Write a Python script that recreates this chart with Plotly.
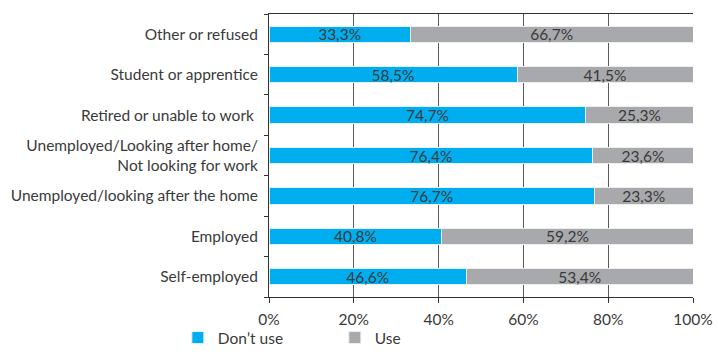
import plotly.graph_objects as go

# Employment status categories, listed bottom to top
categories = [
    "Self-employed",
    "Employed",
    "Unemployed/looking after the home",
    "Unemployed/Looking after home/<br>Not looking for work",
    "Retired or unable to work ",
    "Student or apprentice",
    "Other or refused",
]
dont_use = [46.6, 40.8, 76.7, 76.4, 74.7, 58.5, 33.3]
use = [53.4, 59.2, 23.3, 23.6, 25.3, 41.5, 66.7]
x_ticks = [0, 20, 40, 60, 80, 100]
x_tick_labels = ["0%", "20%", "40%", "60%", "80%", "100%"]

FONT = "Lato, 'Open Sans', sans-serif"
TEXT = "#3a3a3a"
SIZE = 15.5

fig = go.Figure()
fig.add_trace(go.Bar(
    y=categories, x=dont_use, name="Don\u2019t use", orientation="h",
    marker=dict(color="#00AEEF", line=dict(color="#dff3fb", width=1)),
    texttemplate="%{x:.1f}%", textposition="inside", insidetextanchor="middle",
    textfont=dict(family=FONT, size=SIZE, color=TEXT),
))
fig.add_trace(go.Bar(
    y=categories, x=use, name="Use", orientation="h",
    marker=dict(color="#A7A9AC", line=dict(color="#eeeeee", width=1)),
    texttemplate="%{x:.1f}%", textposition="inside", insidetextanchor="middle",
    textfont=dict(family=FONT, size=SIZE, color=TEXT),
))

fig.update_layout(
    barmode="stack",
    bargap=0.6,
    width=718, height=355,
    margin=dict(l=269, r=25, t=14, b=0),
    paper_bgcolor="white", plot_bgcolor="white",
    separators=",.",
    font=dict(family=FONT, size=SIZE, color=TEXT),
    uniformtext=dict(mode="show", minsize=10),
    showlegend=True,
    legend=dict(
        orientation="h", traceorder="normal",
        x=-0.215, xanchor="left", y=0, yanchor="bottom",
        bgcolor="rgba(0,0,0,0)",
        font=dict(family=FONT, size=SIZE, color=TEXT),
        entrywidth=112, itemwidth=30, tracegroupgap=0,
    ),
    xaxis=dict(
        range=[0, 100], tickvals=x_ticks, ticktext=x_tick_labels,
        showgrid=True, gridcolor="#5a5a5a", gridwidth=1,
        showline=True, linecolor="#333333", linewidth=1, mirror=True,
        ticks="outside", ticklen=5, tickcolor="#333333",
        ticklabelstandoff=3,
        zeroline=False, automargin=False,
    ),
    yaxis=dict(
        domain=[58 / 341, 1],
        categoryorder="array", categoryarray=categories,
        showline=True, linecolor="#333333", linewidth=1,
        ticks="outside", tickson="boundaries", ticklen=4, tickcolor="#333333",
        ticklabelstandoff=7, showgrid=False, automargin=False,
    ),
)

fig.write_html("out.html")
